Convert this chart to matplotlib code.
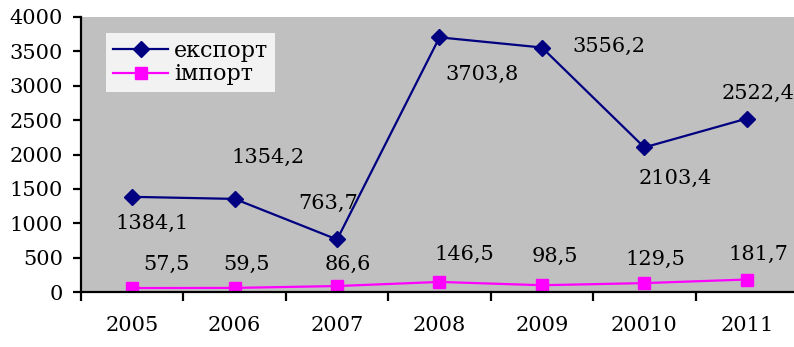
import matplotlib
matplotlib.use("Agg")
import matplotlib.pyplot as plt
from matplotlib.ticker import FixedLocator, NullFormatter, FixedFormatter

years = ["2005", "2006", "2007", "2008", "2009", "20010", "2011"]
export_vals = [1384.1, 1354.2, 763.7, 3703.8, 3556.2, 2103.4, 2522.4]
import_vals = [57.5, 59.5, 86.6, 146.5, 98.5, 129.5, 181.7]
export_labels = ["1384,1", "1354,2", "763,7", "3703,8", "3556,2", "2103,4", "2522,4"]
import_labels = ["57,5", "59,5", "86,6", "146,5", "98,5", "129,5", "181,7"]
series_names = ["експорт", "імпорт"]

# label offsets in pixels relative to each marker
export_offsets = [(20, -27), (33, 41), (-9, 36), (43, -37), (67, 1), (31, -31), (11, 25)]
import_offsets = [(34, 24), (12, 24), (11, 22), (25, 28), (13, 29), (11, 24), (12, 25)]

plt.rcParams["font.family"] = ["DejaVu Serif"]
FS = 15

fig = plt.figure(figsize=(7.94, 3.47), dpi=100)
ax = fig.add_axes([81 / 794, 55 / 347, 717 / 794, 275 / 347])
ax.set_facecolor("#C0C0C0")

x = list(range(len(years)))
ax.plot(x, export_vals, color="#000080", marker="D", markersize=8.5, lw=1.6,
        label=series_names[0])
ax.plot(x, import_vals, color="#FF00FF", marker="s", markersize=8.5, lw=1.6,
        label=series_names[1])

for xi, v, t, (dx, dy) in zip(x, export_vals, export_labels, export_offsets):
    ax.annotate(t, (xi, v), xytext=(dx, dy), textcoords="offset pixels",
                ha="center", va="center", fontsize=FS, color="black")
for xi, v, t, (dx, dy) in zip(x, import_vals, import_labels, import_offsets):
    ax.annotate(t, (xi, v), xytext=(dx, dy), textcoords="offset pixels",
                ha="center", va="center", fontsize=FS, color="black")

ax.set_xlim(-0.5, len(years) - 0.5)
ax.set_ylim(0, 4000)
ax.set_yticks(range(0, 4001, 500))
ax.tick_params(axis="y", labelsize=FS, length=6, width=1.6, pad=7, direction="out")

ax.xaxis.set_major_locator(FixedLocator([i - 0.5 for i in range(len(years) + 1)]))
ax.xaxis.set_major_formatter(NullFormatter())
ax.xaxis.set_minor_locator(FixedLocator(x))
ax.xaxis.set_minor_formatter(FixedFormatter(years))
ax.tick_params(axis="x", which="major", length=6.5, width=1.6, direction="out")
ax.tick_params(axis="x", which="minor", length=0, labelsize=FS, pad=17)

for s in ("top", "right"):
    ax.spines[s].set_visible(False)
for s in ("left", "bottom"):
    ax.spines[s].set_linewidth(1.6)
    ax.spines[s].set_color("black")

leg = ax.legend(loc="upper left", bbox_to_anchor=(0.035, 0.942), fontsize=16,
                frameon=True, fancybox=False, handlelength=2.5, handletextpad=0.25,
                borderpad=0.3, labelspacing=0.08, borderaxespad=0)
leg.get_frame().set_facecolor("#F2F2F2")
leg.get_frame().set_edgecolor("none")
leg.get_frame().set_alpha(1)

fig.savefig("out.png", dpi=100)
